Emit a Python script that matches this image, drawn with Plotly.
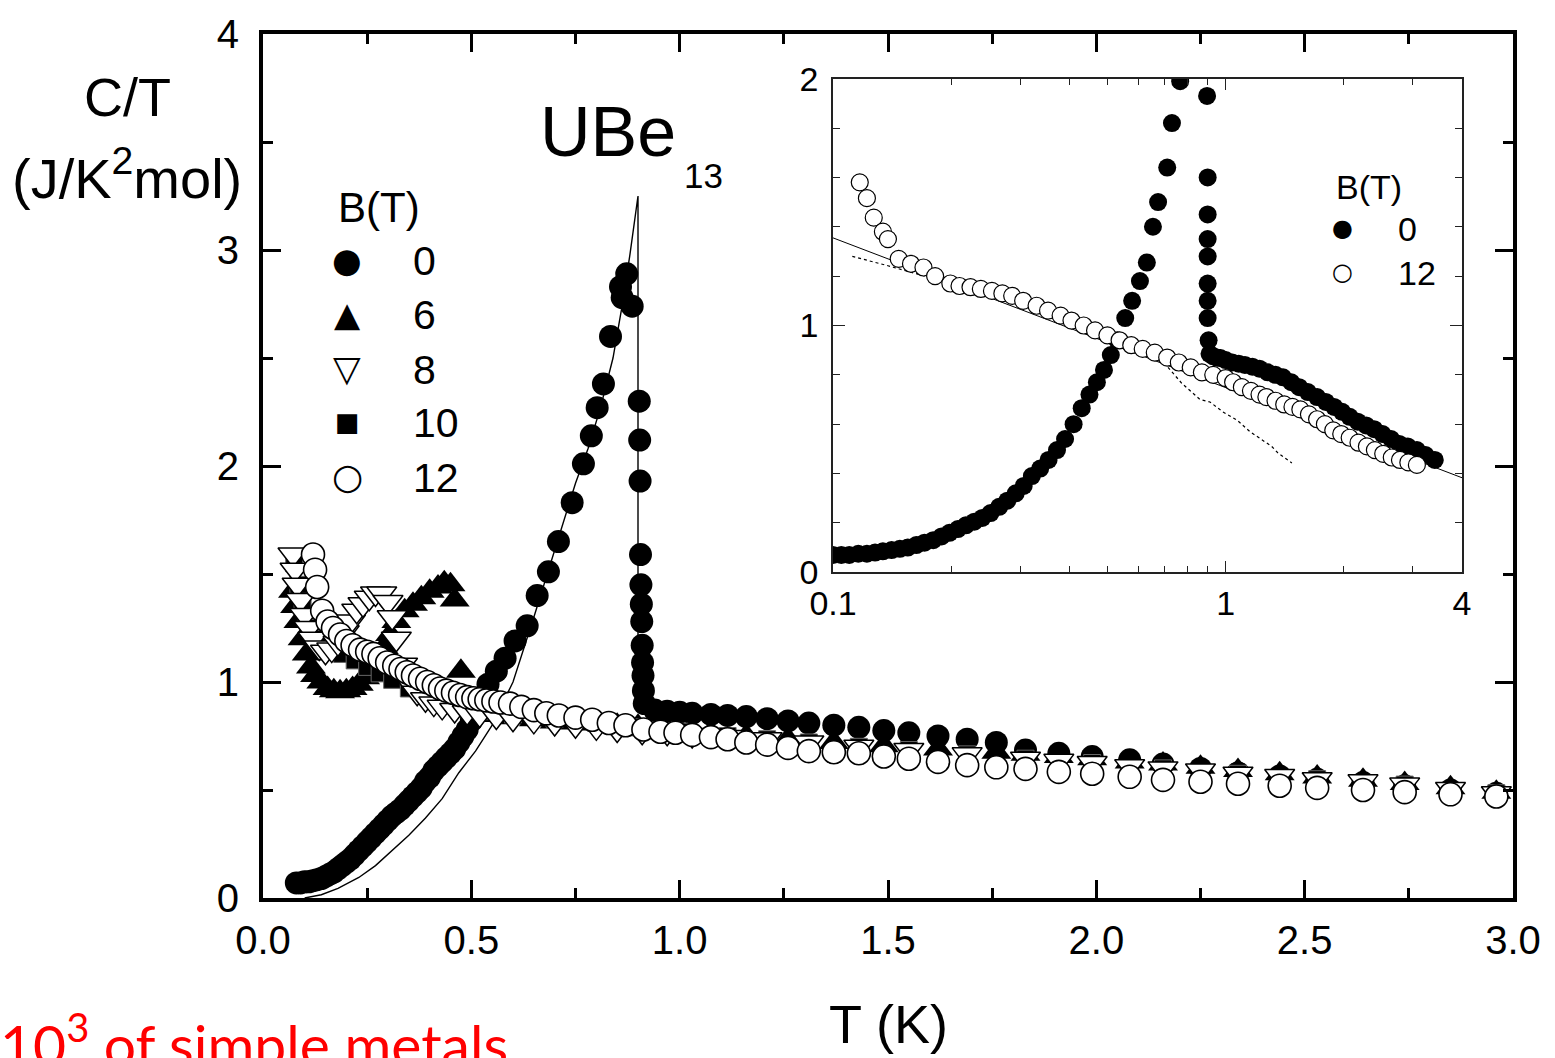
import plotly.graph_objects as go

# ---------------- main panel data : C/T (J/K^2 mol) vs T (K) ----------------
T_B0 = [0.08, 0.09, 0.10, 0.11, 0.12, 0.13, 0.14, 0.15, 0.16, 0.17, 0.18, 0.19, 0.20,
        0.21, 0.22, 0.23, 0.24, 0.25, 0.26, 0.27, 0.28, 0.29, 0.30, 0.31, 0.32, 0.33,
        0.34, 0.35, 0.36, 0.37, 0.38, 0.39, 0.40, 0.41, 0.42, 0.43, 0.44, 0.45, 0.46,
        0.47, 0.48, 0.49, 0.50, 0.52, 0.54, 0.56, 0.581, 0.605, 0.634, 0.658, 0.685,
        0.709, 0.742, 0.769, 0.788, 0.802, 0.817, 0.834, 0.858, 0.862, 0.873, 0.886,
        0.903, 0.904, 0.905, 0.906, 0.907, 0.908, 0.909, 0.910, 0.911, 0.912, 0.913,
        0.915, 0.94, 0.97, 1.00, 1.03, 1.075, 1.115, 1.16, 1.21, 1.26, 1.31, 1.37, 1.43,
        1.49, 1.55, 1.62, 1.69, 1.76, 1.83, 1.91, 1.99, 2.08, 2.16, 2.25, 2.34, 2.44,
        2.53, 2.64, 2.74, 2.85, 2.96]
C_B0 = [0.07, 0.07, 0.075, 0.075, 0.08, 0.085, 0.09, 0.10, 0.11, 0.12, 0.135, 0.15, 0.165,
        0.18, 0.20, 0.22, 0.24, 0.26, 0.28, 0.30, 0.32, 0.34, 0.36, 0.38, 0.395, 0.41,
        0.43, 0.45, 0.47, 0.49, 0.51, 0.54, 0.56, 0.59, 0.61, 0.63, 0.65, 0.67, 0.69,
        0.72, 0.75, 0.78, 0.82, 0.92, 0.99, 1.05, 1.11, 1.19, 1.26, 1.40, 1.51,
        1.65, 1.83, 2.01, 2.14, 2.27, 2.38, 2.60, 2.83, 2.78, 2.89, 2.74,
        2.30, 2.12, 1.93, 1.59, 1.45, 1.36, 1.28, 1.17, 1.09, 1.03, 0.96,
        0.90, 0.87, 0.865, 0.86, 0.855, 0.85, 0.845, 0.84, 0.83, 0.82, 0.81, 0.80, 0.79,
        0.775, 0.765, 0.75, 0.735, 0.72, 0.685, 0.67, 0.655, 0.64, 0.62, 0.60, 0.58, 0.565,
        0.55, 0.535, 0.52, 0.50, 0.485]

T_B6 = [0.072, 0.077, 0.085, 0.095, 0.105, 0.115, 0.125, 0.14, 0.155, 0.17, 0.185, 0.20,
        0.215, 0.23, 0.245, 0.26, 0.275, 0.29, 0.305, 0.32, 0.34, 0.36, 0.38, 0.40, 0.42,
        0.435, 0.45, 0.46, 0.475, 0.52, 0.56, 0.60, 0.65, 0.70, 0.75, 0.80, 0.85, 0.90,
        0.95, 1.00, 1.075, 1.16, 1.26, 1.37, 1.49, 1.62, 1.76, 1.83, 1.91, 1.99, 2.08,
        2.16, 2.25, 2.34, 2.44, 2.53, 2.64, 2.74, 2.85, 2.96]
C_B6 = [1.42, 1.35, 1.28, 1.20, 1.13, 1.07, 1.03, 1.00, 0.97, 0.96, 0.955, 0.96,
        0.97, 0.99, 1.02, 1.06, 1.10, 1.16, 1.22, 1.28, 1.33, 1.36, 1.39, 1.42, 1.44,
        1.46, 1.45, 1.38, 1.05, 0.86, 0.845, 0.835, 0.825, 0.815, 0.81, 0.805, 0.80, 0.795,
        0.79, 0.78, 0.765, 0.75, 0.735, 0.72, 0.705, 0.69, 0.675, 0.665, 0.655, 0.645, 0.63,
        0.62, 0.605, 0.59, 0.575, 0.56, 0.545, 0.53, 0.51, 0.49]

T_B8 = [0.072, 0.077, 0.082, 0.09, 0.10, 0.11, 0.12, 0.135, 0.15, 0.165, 0.18, 0.195,
        0.21, 0.225, 0.24, 0.255, 0.27, 0.285, 0.30, 0.31, 0.32, 0.335, 0.35, 0.37, 0.39,
        0.41, 0.43, 0.46, 0.49, 0.52, 0.56, 0.60, 0.65, 0.70, 0.75, 0.80, 0.85, 0.91,
        0.97, 1.03, 1.115, 1.21, 1.31, 1.43, 1.55, 1.69, 1.83, 1.91, 1.99, 2.08, 2.16,
        2.25, 2.34, 2.44, 2.53, 2.64, 2.74, 2.85, 2.96]
C_B8 = [1.59, 1.52, 1.45, 1.38, 1.31, 1.25, 1.20, 1.16, 1.14, 1.15, 1.18, 1.23,
        1.28, 1.33, 1.36, 1.39, 1.41, 1.41, 1.37, 1.30, 1.20, 1.08, 1.00, 0.95, 0.92,
        0.90, 0.885, 0.87, 0.86, 0.85, 0.84, 0.83, 0.82, 0.81, 0.80, 0.79, 0.78, 0.77,
        0.765, 0.755, 0.745, 0.735, 0.72, 0.70, 0.685, 0.665, 0.645, 0.635, 0.625, 0.61, 0.60,
        0.59, 0.575, 0.565, 0.55, 0.54, 0.525, 0.505, 0.485]

T_B10 = [0.075, 0.085, 0.095, 0.105, 0.115, 0.13, 0.15, 0.17, 0.19, 0.22, 0.25, 0.28,
         0.31, 0.35, 0.40, 0.45, 0.50, 0.55, 0.60, 0.70, 0.80, 0.90, 1.00, 1.115, 1.21,
         1.31, 1.43, 1.55, 1.69, 1.83, 1.99, 2.16, 2.34, 2.53, 2.74, 2.96]
C_B10 = [1.55, 1.45, 1.37, 1.30, 1.25, 1.20, 1.17, 1.15, 1.13, 1.10, 1.07, 1.04,
         1.01, 0.97, 0.93, 0.90, 0.88, 0.865, 0.85, 0.83, 0.81, 0.79, 0.77, 0.75, 0.735,
         0.72, 0.70, 0.685, 0.665, 0.645, 0.625, 0.60, 0.575, 0.55, 0.525, 0.485]

T_B12 = [0.12, 0.125, 0.13, 0.142, 0.155, 0.168, 0.185, 0.20, 0.215, 0.233, 0.25, 0.265,
         0.28, 0.298, 0.315, 0.33, 0.345, 0.36, 0.377, 0.394, 0.41, 0.425, 0.44, 0.456,
         0.473, 0.49, 0.505, 0.52, 0.536, 0.553, 0.57, 0.593, 0.62, 0.65, 0.68, 0.71,
         0.75, 0.79, 0.83, 0.87, 0.913, 0.954, 0.99, 1.03, 1.075, 1.115, 1.16, 1.21,
         1.26, 1.31, 1.37, 1.43, 1.49, 1.55, 1.62, 1.69, 1.76, 1.83, 1.91, 1.99, 2.08,
         2.16, 2.25, 2.34, 2.44, 2.53, 2.64, 2.74, 2.85, 2.96]
C_B12 = [1.59, 1.52, 1.44, 1.33, 1.28, 1.25, 1.22, 1.19, 1.17, 1.15, 1.14, 1.13,
         1.11, 1.09, 1.075, 1.06, 1.045, 1.03, 1.015, 1.00, 0.985, 0.97, 0.96, 0.95,
         0.94, 0.93, 0.925, 0.92, 0.915, 0.91, 0.905, 0.90, 0.885, 0.87, 0.855, 0.845,
         0.835, 0.825, 0.81, 0.80, 0.78, 0.77, 0.765, 0.755, 0.745, 0.735, 0.72, 0.71,
         0.695, 0.68, 0.675, 0.67, 0.655, 0.645, 0.63, 0.615, 0.605, 0.598, 0.584, 0.575, 0.561,
         0.547, 0.538, 0.529, 0.52, 0.51, 0.50, 0.49, 0.48, 0.47]

# entropy-balanced BCS-like construction (thin line)
T_fit = [0.10, 0.14, 0.18, 0.23, 0.27, 0.31, 0.35, 0.39, 0.43, 0.47, 0.51, 0.55, 0.60,
         0.65, 0.70, 0.75, 0.78, 0.81, 0.84, 0.86, 0.88, 0.90, 0.90, 0.95]
C_fit = [0.0, 0.015, 0.045, 0.095, 0.15, 0.22, 0.29, 0.37, 0.46, 0.58, 0.68, 0.80, 1.00,
         1.30, 1.61, 1.92, 2.08, 2.27, 2.50, 2.72, 2.97, 3.25, 0.87, 0.865]

# ---------------- inset data (log T) ----------------
Ti_B0 = [0.100, 0.105, 0.110, 0.116, 0.122, 0.128, 0.134, 0.141, 0.148, 0.155, 0.163,
         0.171, 0.180, 0.189, 0.198, 0.208, 0.218, 0.229, 0.240, 0.252, 0.265, 0.278,
         0.292, 0.306, 0.321, 0.337, 0.354, 0.372, 0.39, 0.41, 0.43, 0.45, 0.47, 0.49,
         0.51, 0.53, 0.555, 0.578, 0.605, 0.63, 0.653, 0.673, 0.71, 0.73, 0.766,
         0.897, 0.90, 0.90, 0.90, 0.90, 0.90, 0.90, 0.90, 0.905, 0.91, 0.93, 0.95, 0.97,
         1.00, 1.04, 1.08, 1.12, 1.17, 1.22, 1.28, 1.34, 1.40, 1.47, 1.54, 1.62, 1.71,
         1.80, 1.89, 1.98, 2.07, 2.17, 2.28, 2.39, 2.51, 2.64, 2.77, 2.91, 3.07, 3.23, 3.41]
Ci_B0 = [0.07, 0.07, 0.07, 0.075, 0.075, 0.08, 0.085, 0.09, 0.095, 0.10, 0.11,
         0.12, 0.13, 0.145, 0.16, 0.175, 0.19, 0.205, 0.22, 0.24, 0.265, 0.29,
         0.32, 0.35, 0.39, 0.42, 0.455, 0.495, 0.54, 0.60, 0.665, 0.72, 0.77, 0.82,
         0.88, 0.94, 1.03, 1.10, 1.18, 1.255, 1.40, 1.50, 1.64, 1.82, 1.99,
         1.93, 1.60, 1.45, 1.35, 1.28, 1.17, 1.10, 1.03, 0.94, 0.885, 0.875, 0.87, 0.868,
         0.86, 0.85, 0.845, 0.84, 0.833, 0.825, 0.81, 0.80, 0.79, 0.77, 0.75, 0.73, 0.71,
         0.69, 0.67, 0.65, 0.63, 0.61, 0.595, 0.58, 0.56, 0.54, 0.52, 0.51, 0.495, 0.475, 0.455]

Ti_B12 = [0.117, 0.122, 0.127, 0.134, 0.138, 0.147, 0.158, 0.17, 0.182, 0.199, 0.21,
          0.224, 0.238, 0.254, 0.27, 0.286, 0.305, 0.33, 0.353, 0.38, 0.405, 0.435,
          0.465, 0.50, 0.537, 0.575, 0.615, 0.66, 0.71, 0.76, 0.815, 0.87, 0.93, 1.0,
          1.045, 1.10, 1.16, 1.22, 1.27, 1.34, 1.41, 1.48, 1.55, 1.63, 1.71, 1.79, 1.88,
          1.97, 2.07, 2.18, 2.29, 2.4, 2.52, 2.65, 2.78, 2.92, 3.07]
Ci_B12 = [1.58, 1.516, 1.437, 1.38, 1.35, 1.27, 1.25, 1.235, 1.20, 1.17, 1.16,
          1.155, 1.148, 1.14, 1.13, 1.12, 1.10, 1.08, 1.06, 1.04, 1.02, 1.00,
          0.98, 0.96, 0.94, 0.92, 0.905, 0.89, 0.87, 0.85, 0.83, 0.81, 0.80, 0.787,
          0.77, 0.75, 0.735, 0.72, 0.71, 0.695, 0.68, 0.67, 0.66, 0.64, 0.62, 0.60, 0.575,
          0.56, 0.545, 0.525, 0.51, 0.495, 0.48, 0.465, 0.455, 0.445, 0.435]

Ti_line = [0.1, 4.0]
Ci_line = [1.355, 0.383]

Ti_dot = [0.112, 0.138, 0.2, 0.3, 0.45, 0.6, 0.7, 0.774, 0.861, 0.912, 0.984, 1.07, 1.153,
          1.245, 1.31, 1.36, 1.475]
Ci_dot = [1.28, 1.242, 1.17, 1.09, 0.97, 0.895, 0.845, 0.765, 0.70, 0.69, 0.65, 0.616, 0.57,
          0.535, 0.51, 0.483, 0.443]

# legend entries
field_labels = ["0", "6", "8", "10", "12"]
inset_labels = ["0", "12"]

# ---------------- figure ----------------
W, H = 1555, 1058
L, R, TOP, BOT = 263, 1513, 28, 898
def px(x):
    return (x - L) / (R - L)
def py(y):
    return (BOT - y) / (BOT - TOP)

AX = "Liberation Sans, Arial, sans-serif"
fig = go.Figure()

# main panel traces
fig.add_trace(go.Scatter(x=T_fit, y=C_fit, mode="lines", line=dict(color="black", width=1.4),
                         xaxis="x", yaxis="y", hoverinfo="skip"))
fig.add_trace(go.Scatter(x=T_B0, y=C_B0, mode="markers", name="0",
                         marker=dict(symbol="circle", size=23, color="black", line=dict(width=0))))
fig.add_trace(go.Scatter(x=T_B6, y=C_B6, mode="markers", name="6",
                         marker=dict(symbol="triangle-up", size=26, color="black", line=dict(width=0))))
fig.add_trace(go.Scatter(x=T_B10, y=C_B10, mode="markers", name="10",
                         marker=dict(symbol="square", size=17, color="black", line=dict(width=1, color="#666"))))
fig.add_trace(go.Scatter(x=T_B8, y=C_B8, mode="markers", name="8",
                         marker=dict(symbol="triangle-down", size=26, color="white", line=dict(width=1.5, color="black"))))
fig.add_trace(go.Scatter(x=T_B12, y=C_B12, mode="markers", name="12",
                         marker=dict(symbol="circle", size=23, color="white", line=dict(width=1.6, color="black"))))

# inset traces
fig.add_trace(go.Scatter(x=Ti_line, y=Ci_line, mode="lines", line=dict(color="black", width=1),
                         xaxis="x2", yaxis="y2", hoverinfo="skip"))
fig.add_trace(go.Scatter(x=Ti_dot, y=Ci_dot, mode="lines", line=dict(color="black", width=1.2, dash="dot"),
                         xaxis="x2", yaxis="y2", hoverinfo="skip"))
fig.add_trace(go.Scatter(x=Ti_B0, y=Ci_B0, mode="markers", xaxis="x2", yaxis="y2", name="0 (inset)",
                         marker=dict(symbol="circle", size=18, color="black", line=dict(width=0))))
fig.add_trace(go.Scatter(x=Ti_B12, y=Ci_B12, mode="markers", xaxis="x2", yaxis="y2", name="12 (inset)",
                         marker=dict(symbol="circle", size=17, color="white", line=dict(width=1.2, color="black"))))

main_axis = dict(showline=True, linewidth=4, linecolor="black", mirror="allticks",
                 ticks="inside", ticklen=18, tickwidth=3, tickcolor="black",
                 showgrid=False, zeroline=False,
                 tickfont=dict(family=AX, size=40, color="black"))
inset_axis = dict(showline=True, linewidth=1.5, linecolor="#222", mirror="allticks",
                  ticks="inside", ticklen=12, tickwidth=1.2, tickcolor="#222",
                  showgrid=False, zeroline=False,
                  tickfont=dict(family=AX, size=34, color="black"))

fig.update_layout(
    width=W, height=H, autosize=False,
    margin=dict(l=L, r=W - R, t=TOP, b=H - BOT, pad=0),
    paper_bgcolor="white", plot_bgcolor="white",
    showlegend=False,
    xaxis=dict(main_axis, range=[0, 3.0], dtick=0.5, tick0=0, tickformat=".1f",
               ticklabelstandoff=4,
               minor=dict(dtick=0.25, tick0=0, ticklen=10, tickwidth=3, tickcolor="black", ticks="inside")),
    yaxis=dict(main_axis, range=[0, 4], dtick=1, tick0=0, ticklabelstandoff=12,
               minor=dict(dtick=0.5, tick0=0, ticklen=10, tickwidth=3, tickcolor="black", ticks="inside")),
    xaxis2=dict(inset_axis, type="log", range=[-1, 0.60206], anchor="y2",
                domain=[px(833), px(1462)],
                tickmode="array", tickvals=[0.1, 1, 4], ticktext=["0.1", "1", "4"],
                ticklabelstandoff=0,
                minor=dict(tickmode="array", tickvals=[0.2, 0.3, 0.4, 0.5, 0.6, 0.7, 0.8, 0.9, 2, 3],
                           ticklen=7, tickwidth=1.2, tickcolor="#222", ticks="inside")),
    yaxis2=dict(inset_axis, range=[0, 2], anchor="x2", domain=[py(570), py(73)],
                tickmode="array", tickvals=[0, 1, 2], ticktext=["0", "1", "2"],
                ticklabelstandoff=6,
                minor=dict(dtick=0.2, tick0=0, ticklen=7, tickwidth=1.2, tickcolor="#222", ticks="inside")),
)

ann = []
def add_text(text, x, y, size, family=AX, xanchor="center", color="black"):
    ann.append(dict(text=text, x=px(x), y=py(y), xref="paper", yref="paper",
                    xanchor=xanchor, yanchor="middle", showarrow=False,
                    font=dict(family=family, size=size, color=color)))

add_text("C/T", 127, 91, 54)
add_text("(J/K<sup>2</sup>mol)", 127, 169, 56)
add_text("T (K)", 888, 1025, 54)
add_text("UBe", 608, 127, 70)
add_text("13", 703, 170, 35)

# main legend
add_text("B(T)", 379, 203, 42)
glyphs = ["●", "▲", "▽", "■", "○"]
gsizes = [34, 34, 36, 26, 36]
ys = [262, 316, 371, 425, 480]
for g, gs, lab, yy in zip(glyphs, gsizes, field_labels, ys):
    add_text(g, 347, yy - 6, gs, family="DejaVu Sans")
    add_text(lab, 411, yy - 5, 41, xanchor="left")

# inset legend
add_text("B(T)", 1369, 182, 34)
for g, lab, yy in zip(["●", "○"], inset_labels, [230, 275]):
    add_text(g, 1342, yy - 7, 24, family="DejaVu Sans")
    add_text(lab, 1396, yy - 6, 34, xanchor="left")

add_text("10<sup>3</sup> of simple metals", -2, 1041, 57, family="Lato, Carlito, sans-serif",
         xanchor="left", color="#ff0000")

fig.update_layout(annotations=ann)
fig.write_html("out.html")
